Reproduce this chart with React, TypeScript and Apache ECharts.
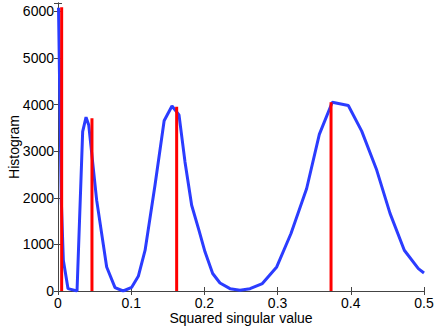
import React, { useEffect, useRef } from "react";
import * as echarts from "echarts";

// Blue histogram curve: [squared singular value, count]
const curveX = [
  0.0007, 0.0045, 0.0073, 0.0137, 0.026, 0.0337, 0.0383, 0.042, 0.0528, 0.0665,
  0.0779, 0.089, 0.1007, 0.1097, 0.119, 0.1325, 0.145, 0.1557, 0.1653, 0.1735,
  0.1826, 0.1926, 0.2008, 0.2113, 0.2213, 0.235, 0.2486, 0.2623, 0.2792, 0.2988,
  0.3183, 0.3397, 0.357, 0.3747, 0.3966, 0.4149, 0.4354, 0.4536, 0.4731, 0.4923, 0.5,
];
const curveY = [
  6080, 1950, 660, 50, 0, 3420, 3730, 3560, 1950, 516,
  73, 0, 80, 316, 875, 2270, 3655, 3970, 3780, 2770,
  1840, 1300, 840, 375, 172, 50, 15, 50, 160, 516,
  1234, 2200, 3360, 4050, 3980, 3430, 2595, 1665, 875, 480, 387,
];

// Red vertical markers
const markerX = [0.005, 0.0464, 0.1621, 0.373];
const markerY = [6090, 3705, 3955, 4050];

const xTicks = [0, 0.1, 0.2, 0.3, 0.4, 0.5];
const yTicks = [0, 1000, 2000, 3000, 4000, 5000, 6000];

const FONT = "Liberation Sans, Arial, sans-serif";
const AXIS_COLOR = "#444";

export default function App() {
  const ref = useRef<HTMLDivElement>(null);
  useEffect(() => {
    document.body.style.margin = "0";
    if (!ref.current) return;
    const chart = echarts.init(ref.current, null, { renderer: "svg" });
    const labelStyle = { color: "#000", fontFamily: FONT, fontSize: 14, lineHeight: 13 };
    const xMin = xTicks[0];
    const xMax = xTicks[xTicks.length - 1];
    const yMax = 6180;
    const baseX = {
      type: "value" as const,
      min: xMin,
      max: xMax,
      interval: 0.1,
      splitLine: { show: false },
      axisLine: { show: true, lineStyle: { color: AXIS_COLOR, width: 1 } },
      axisTick: { show: true, inside: true, length: 4, lineStyle: { color: AXIS_COLOR } },
    };
    const baseY = {
      type: "value" as const,
      min: 0,
      max: yMax,
      interval: 1000,
      splitLine: { show: false },
      axisLine: { show: true, lineStyle: { color: AXIS_COLOR, width: 1 } },
      axisTick: { show: true, inside: true, length: 4, lineStyle: { color: AXIS_COLOR } },
    };
    chart.setOption({
      animation: false,
      backgroundColor: "#fff",
      grid: { left: 58, right: 13, top: 3, bottom: 36, containLabel: false, outerBoundsMode: "none" },
      xAxis: [
        {
          ...baseX,
          position: "bottom",
          name: "Squared singular value",
          nameLocation: "middle",
          nameGap: 20,
          nameMoveOverlap: false,
          nameTextStyle: labelStyle,
          axisLabel: {
            ...labelStyle,
            margin: 5,
            formatter: (v: number) => (xTicks.some((t) => Math.abs(t - v) < 1e-9) ? String(+v.toFixed(1)) : ""),
          },
        },
        { ...baseX, position: "top", axisLabel: { show: false } },
      ],
      yAxis: [
        {
          ...baseY,
          position: "left",
          name: "Histogram",
          nameLocation: "middle",
          nameGap: 38,
          nameMoveOverlap: false,
          nameTextStyle: labelStyle,
          axisLabel: {
            ...labelStyle,
            margin: 4,
            formatter: (v: number) => (yTicks.includes(Math.round(v)) && Math.abs(v - Math.round(v)) < 1e-6 ? String(Math.round(v)) : ""),
          },
        },
        { ...baseY, position: "right", axisLabel: { show: false } },
      ],
      series: [
        {
          type: "line",
          data: curveX.map((x, i) => [x, curveY[i]]),
          symbol: "none",
          lineStyle: { color: "#2b3cff", width: 3 },
          z: 2,
        },
        ...markerX.map((x, i) => ({
          type: "line",
          data: [
            [x, 0],
            [x, markerY[i]],
          ],
          symbol: "none",
          lineStyle: { color: "#ff0000", width: 3 },
          z: 3,
        })),
      ],
    });
    return () => chart.dispose();
  }, []);
  return <div ref={ref} style={{ width: 437, height: 327 }} />;
}
